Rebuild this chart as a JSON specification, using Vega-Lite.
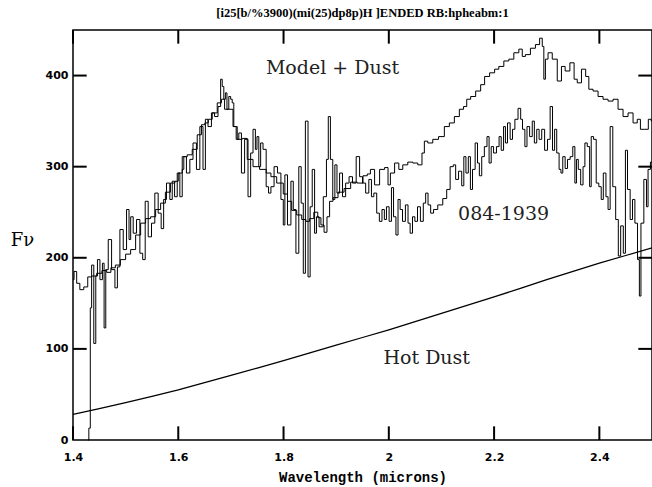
{
"$schema": "https://vega.github.io/schema/vega-lite/v6.json",
"width": 579, "height": 410,
"autosize": "none",
"padding": {"left": 73, "top": 30, "right": 0, "bottom": 47},
"background": "white",
"title": {"text": "[i25[b/%3900)(mi(25)dp8p)H ]ENDED RB:hpheabm:1", "font": "Liberation Sans Narrow, Liberation Serif", "fontSize": 12.5, "fontWeight": "bold", "color": "black", "anchor": "middle", "offset": 10},
"config": {
  "view": {"stroke": "black", "strokeWidth": 1.5}
},
"datasets": {
"xt": [{"w":1.4},{"w":1.6},{"w":1.8},{"w":2.0},{"w":2.2},{"w":2.4}],
"yt": [{"v":100},{"v":200},{"v":300},{"v":400}],
"dust": [
{"w":1.4,"v":28},{"w":1.45,"v":34.5},{"w":1.5,"v":41},{"w":1.55,"v":48},{"w":1.6,"v":55},{"w":1.65,"v":63},{"w":1.7,"v":71},{"w":1.75,"v":79},{"w":1.8,"v":87},{"w":1.85,"v":95.5},{"w":1.9,"v":104},{"w":1.95,"v":112.5},{"w":2.0,"v":121},{"w":2.05,"v":130},{"w":2.1,"v":139},{"w":2.15,"v":148},{"w":2.2,"v":157},{"w":2.25,"v":166.5},{"w":2.3,"v":176},{"w":2.35,"v":185},{"w":2.4,"v":194},{"w":2.45,"v":202.5},{"w":2.5,"v":211}
],
"model": [
{"w":1.400,"v":176},{"w":1.404,"v":185},{"w":1.410,"v":172},{"w":1.416,"v":165},{"w":1.425,"v":168},{"w":1.431,"v":179},{"w":1.440,"v":180},{"w":1.450,"v":183},{"w":1.460,"v":186},{"w":1.468,"v":184},{"w":1.476,"v":189},{"w":1.485,"v":192},{"w":1.495,"v":198},{"w":1.505,"v":204},{"w":1.514,"v":209},{"w":1.524,"v":225},{"w":1.533,"v":238},{"w":1.543,"v":243},{"w":1.552,"v":245},{"w":1.562,"v":253},{"w":1.571,"v":260},{"w":1.580,"v":272},{"w":1.590,"v":282},{"w":1.597,"v":284},{"w":1.603,"v":293},{"w":1.612,"v":311},{"w":1.622,"v":313},{"w":1.631,"v":319},{"w":1.641,"v":335},{"w":1.647,"v":346},{"w":1.654,"v":348},{"w":1.660,"v":352},{"w":1.669,"v":359},{"w":1.679,"v":370},{"w":1.685,"v":374},{"w":1.691,"v":363},{"w":1.701,"v":363},{"w":1.707,"v":344},{"w":1.717,"v":330},{"w":1.726,"v":331},{"w":1.736,"v":308},{"w":1.748,"v":300},{"w":1.761,"v":297},{"w":1.773,"v":293},{"w":1.779,"v":289},{"w":1.795,"v":282},{"w":1.804,"v":270},{"w":1.811,"v":262},{"w":1.820,"v":252},{"w":1.830,"v":247},{"w":1.839,"v":242},{"w":1.846,"v":240},{"w":1.853,"v":243},{"w":1.862,"v":250},{"w":1.868,"v":244},{"w":1.874,"v":236},{"w":1.880,"v":228},{"w":1.885,"v":245},{"w":1.890,"v":262},{"w":1.898,"v":266},{"w":1.909,"v":272},{"w":1.921,"v":276},{"w":1.934,"v":283},{"w":1.946,"v":282},{"w":1.956,"v":290},{"w":1.962,"v":292},{"w":1.968,"v":297},{"w":1.978,"v":280},{"w":1.987,"v":297},{"w":1.997,"v":299},{"w":2.000,"v":280},{"w":2.006,"v":293},{"w":2.016,"v":304},{"w":2.022,"v":297},{"w":2.031,"v":302},{"w":2.041,"v":305},{"w":2.050,"v":304},{"w":2.060,"v":302},{"w":2.066,"v":315},{"w":2.069,"v":328},{"w":2.079,"v":326},{"w":2.088,"v":330},{"w":2.101,"v":333},{"w":2.110,"v":344},{"w":2.120,"v":348},{"w":2.129,"v":355},{"w":2.139,"v":363},{"w":2.145,"v":366},{"w":2.151,"v":374},{"w":2.160,"v":377},{"w":2.170,"v":383},{"w":2.179,"v":390},{"w":2.185,"v":399},{"w":2.198,"v":403},{"w":2.204,"v":407},{"w":2.214,"v":410},{"w":2.223,"v":416},{"w":2.233,"v":418},{"w":2.242,"v":425},{"w":2.252,"v":429},{"w":2.255,"v":421},{"w":2.264,"v":423},{"w":2.274,"v":430},{"w":2.283,"v":434},{"w":2.290,"v":441},{"w":2.293,"v":432},{"w":2.296,"v":396},{"w":2.299,"v":418},{"w":2.306,"v":425},{"w":2.315,"v":418},{"w":2.325,"v":394},{"w":2.331,"v":410},{"w":2.339,"v":405},{"w":2.349,"v":414},{"w":2.355,"v":396},{"w":2.361,"v":392},{"w":2.371,"v":407},{"w":2.377,"v":399},{"w":2.383,"v":385},{"w":2.393,"v":383},{"w":2.402,"v":377},{"w":2.412,"v":374},{"w":2.421,"v":372},{"w":2.431,"v":374},{"w":2.440,"v":363},{"w":2.450,"v":355},{"w":2.459,"v":359},{"w":2.469,"v":348},{"w":2.475,"v":352},{"w":2.481,"v":341},{"w":2.489,"v":341},{"w":2.497,"v":352},{"w":2.5,"v":350}
],
"obs": [
{"w":1.428,"v":0},{"w":1.4322,"v":13},{"w":1.4335,"v":145},{"w":1.4373,"v":192},{"w":1.4417,"v":106},{"w":1.4449,"v":180},{"w":1.448,"v":198},{"w":1.4543,"v":176},{"w":1.4575,"v":194},{"w":1.4607,"v":123},{"w":1.4638,"v":187},{"w":1.4701,"v":220},{"w":1.4765,"v":187},{"w":1.4828,"v":167},{"w":1.4859,"v":190},{"w":1.4923,"v":231},{"w":1.4986,"v":209},{"w":1.5049,"v":253},{"w":1.508,"v":220},{"w":1.5112,"v":245},{"w":1.5175,"v":227},{"w":1.5239,"v":242},{"w":1.5302,"v":205},{"w":1.5346,"v":198},{"w":1.5397,"v":262},{"w":1.546,"v":223},{"w":1.5523,"v":238},{"w":1.5586,"v":271},{"w":1.565,"v":249},{"w":1.57,"v":232},{"w":1.5744,"v":264},{"w":1.5808,"v":282},{"w":1.5871,"v":264},{"w":1.590,"v":284},{"w":1.596,"v":267},{"w":1.600,"v":293},{"w":1.606,"v":267},{"w":1.609,"v":297},{"w":1.612,"v":311},{"w":1.619,"v":293},{"w":1.625,"v":308},{"w":1.631,"v":326},{"w":1.638,"v":297},{"w":1.644,"v":344},{"w":1.650,"v":297},{"w":1.653,"v":352},{"w":1.660,"v":344},{"w":1.666,"v":359},{"w":1.672,"v":355},{"w":1.679,"v":366},{"w":1.682,"v":396},{"w":1.685,"v":388},{"w":1.688,"v":374},{"w":1.691,"v":381},{"w":1.694,"v":363},{"w":1.698,"v":377},{"w":1.701,"v":374},{"w":1.704,"v":370},{"w":1.707,"v":344},{"w":1.713,"v":330},{"w":1.717,"v":337},{"w":1.723,"v":293},{"w":1.729,"v":330},{"w":1.736,"v":267},{"w":1.739,"v":315},{"w":1.745,"v":341},{"w":1.748,"v":319},{"w":1.751,"v":333},{"w":1.755,"v":300},{"w":1.758,"v":326},{"w":1.764,"v":319},{"w":1.770,"v":278},{"w":1.773,"v":271},{"w":1.779,"v":278},{"w":1.785,"v":300},{"w":1.792,"v":293},{"w":1.798,"v":264},{"w":1.801,"v":236},{"w":1.804,"v":291},{"w":1.811,"v":236},{"w":1.817,"v":284},{"w":1.820,"v":253},{"w":1.827,"v":205},{"w":1.831,"v":300},{"w":1.836,"v":260},{"w":1.839,"v":183},{"w":1.844,"v":350},{"w":1.849,"v":179},{"w":1.852,"v":256},{"w":1.857,"v":297},{"w":1.861,"v":227},{"w":1.864,"v":245},{"w":1.871,"v":234},{"w":1.880,"v":267},{"w":1.883,"v":308},{"w":1.887,"v":355},{"w":1.891,"v":308},{"w":1.896,"v":264},{"w":1.899,"v":302},{"w":1.904,"v":271},{"w":1.909,"v":293},{"w":1.915,"v":267},{"w":1.921,"v":282},{"w":1.928,"v":289},{"w":1.934,"v":282},{"w":1.942,"v":311},{"w":1.947,"v":289},{"w":1.953,"v":282},{"w":1.959,"v":271},{"w":1.965,"v":286},{"w":1.969,"v":267},{"w":1.974,"v":271},{"w":1.980,"v":249},{"w":1.984,"v":240},{"w":1.990,"v":253},{"w":1.993,"v":242},{"w":1.998,"v":256},{"w":2.003,"v":240},{"w":2.007,"v":277},{"w":2.011,"v":245},{"w":2.016,"v":225},{"w":2.019,"v":264},{"w":2.024,"v":253},{"w":2.028,"v":240},{"w":2.035,"v":258},{"w":2.038,"v":238},{"w":2.043,"v":227},{"w":2.047,"v":245},{"w":2.052,"v":240},{"w":2.057,"v":256},{"w":2.063,"v":240},{"w":2.068,"v":260},{"w":2.072,"v":271},{"w":2.077,"v":258},{"w":2.082,"v":249},{"w":2.088,"v":253},{"w":2.098,"v":258},{"w":2.107,"v":265},{"w":2.113,"v":275},{"w":2.120,"v":300},{"w":2.125,"v":302},{"w":2.129,"v":286},{"w":2.136,"v":295},{"w":2.141,"v":279},{"w":2.144,"v":311},{"w":2.149,"v":293},{"w":2.153,"v":311},{"w":2.157,"v":275},{"w":2.161,"v":297},{"w":2.167,"v":326},{"w":2.170,"v":304},{"w":2.174,"v":290},{"w":2.179,"v":311},{"w":2.184,"v":322},{"w":2.189,"v":333},{"w":2.192,"v":304},{"w":2.197,"v":322},{"w":2.201,"v":315},{"w":2.208,"v":322},{"w":2.211,"v":333},{"w":2.216,"v":318},{"w":2.220,"v":344},{"w":2.223,"v":326},{"w":2.228,"v":348},{"w":2.233,"v":330},{"w":2.237,"v":341},{"w":2.242,"v":352},{"w":2.249,"v":364},{"w":2.252,"v":352},{"w":2.256,"v":341},{"w":2.261,"v":322},{"w":2.264,"v":344},{"w":2.271,"v":333},{"w":2.274,"v":350},{"w":2.279,"v":326},{"w":2.283,"v":341},{"w":2.288,"v":330},{"w":2.293,"v":341},{"w":2.299,"v":318},{"w":2.304,"v":330},{"w":2.309,"v":366},{"w":2.313,"v":318},{"w":2.317,"v":341},{"w":2.321,"v":315},{"w":2.326,"v":297},{"w":2.328,"v":293},{"w":2.333,"v":311},{"w":2.337,"v":298},{"w":2.342,"v":308},{"w":2.347,"v":311},{"w":2.352,"v":322},{"w":2.355,"v":282},{"w":2.358,"v":308},{"w":2.362,"v":297},{"w":2.367,"v":280},{"w":2.371,"v":300},{"w":2.374,"v":326},{"w":2.380,"v":322},{"w":2.383,"v":278},{"w":2.386,"v":333},{"w":2.392,"v":330},{"w":2.396,"v":282},{"w":2.402,"v":278},{"w":2.405,"v":264},{"w":2.410,"v":293},{"w":2.415,"v":267},{"w":2.418,"v":253},{"w":2.423,"v":344},{"w":2.428,"v":278},{"w":2.434,"v":242},{"w":2.438,"v":202},{"w":2.443,"v":235},{"w":2.448,"v":205},{"w":2.451,"v":318},{"w":2.456,"v":275},{"w":2.461,"v":242},{"w":2.465,"v":264},{"w":2.470,"v":238},{"w":2.475,"v":198},{"w":2.477,"v":158},{"w":2.481,"v":238},{"w":2.488,"v":286},{"w":2.491,"v":256},{"w":2.494,"v":297},{"w":2.5,"v":305}
],
"notes": [
{"w":1.893,"v":408,"label":"Model + Dust"},
{"w":2.218,"v":248,"label":"084-1939"},
{"w":2.072,"v":90,"label":"Hot Dust"}
]
},
"layer": [
{"data": {"name": "dust"}, "mark": {"type": "line", "color": "black", "strokeWidth": 1.3},
 "encoding": {
  "x": {"field": "w", "type": "quantitative", "scale": {"domain": [1.4, 2.5], "nice": false, "zero": false},
        "axis": {"orient": "bottom", "grid": false, "domain": false, "ticks": false, "labelFlush": false, "labelColor": "black", "labelFont": "DejaVu Sans", "labelFontWeight": "bold", "labelFontSize": 11, "values": [1.4,1.6,1.8,2,2.2,2.4], "labelExpr": "datum.value + ''", "labelPadding": 11, "title": "Wavelength (microns)", "titleColor": "black", "titleFont": "Liberation Mono", "titleFontWeight": "bold", "titleFontSize": 14, "titlePadding": 8}},
  "y": {"field": "v", "type": "quantitative", "scale": {"domain": [0, 450], "nice": false},
        "axis": {"orient": "left", "grid": false, "domain": false, "ticks": false, "labelFlush": false, "labelColor": "black", "labelFont": "DejaVu Sans", "labelFontWeight": "bold", "labelFontSize": 11, "values": [0,100,200,300,400], "labelPadding": 5, "title": "Fν", "titleColor": "black", "titleAngle": 0, "titleFont": "DejaVu Serif", "titleFontWeight": "normal", "titleFontSize": 18, "titleX": -51, "titleY": 210, "titleAlign": "center", "titleBaseline": "middle"}}
 }},
{"data": {"name": "xt"}, "mark": {"type": "rule", "color": "black", "strokeWidth": 2},
 "encoding": {"x": {"field": "w", "type": "quantitative"}, "y": {"datum": 0}, "y2": {"datum": 15}}},
{"data": {"name": "xt"}, "mark": {"type": "rule", "color": "black", "strokeWidth": 2},
 "encoding": {"x": {"field": "w", "type": "quantitative"}, "y": {"datum": 450}, "y2": {"datum": 435}}},
{"data": {"name": "yt"}, "mark": {"type": "rule", "color": "black", "strokeWidth": 2},
 "encoding": {"y": {"field": "v", "type": "quantitative"}, "x": {"datum": 1.4}, "x2": {"datum": 1.426}}},
{"data": {"name": "yt"}, "mark": {"type": "rule", "color": "black", "strokeWidth": 2},
 "encoding": {"y": {"field": "v", "type": "quantitative"}, "x": {"datum": 2.5}, "x2": {"datum": 2.474}}},
{"data": {"name": "model"}, "mark": {"type": "line", "color": "black", "strokeWidth": 1, "interpolate": "step"},
 "encoding": {
  "x": {"field": "w", "type": "quantitative"},
  "y": {"field": "v", "type": "quantitative"}
 }},
{"data": {"name": "obs"}, "mark": {"type": "line", "color": "black", "strokeWidth": 1, "interpolate": "step"},
 "encoding": {
  "x": {"field": "w", "type": "quantitative"},
  "y": {"field": "v", "type": "quantitative"}
 }},
{"data": {"name": "notes"}, "mark": {"type": "text", "font": "DejaVu Serif", "fontSize": 19, "color": "#222", "align": "center", "baseline": "middle"},
 "encoding": {
  "x": {"field": "w", "type": "quantitative"},
  "y": {"field": "v", "type": "quantitative"},
  "text": {"field": "label"}
 }}
]
}
